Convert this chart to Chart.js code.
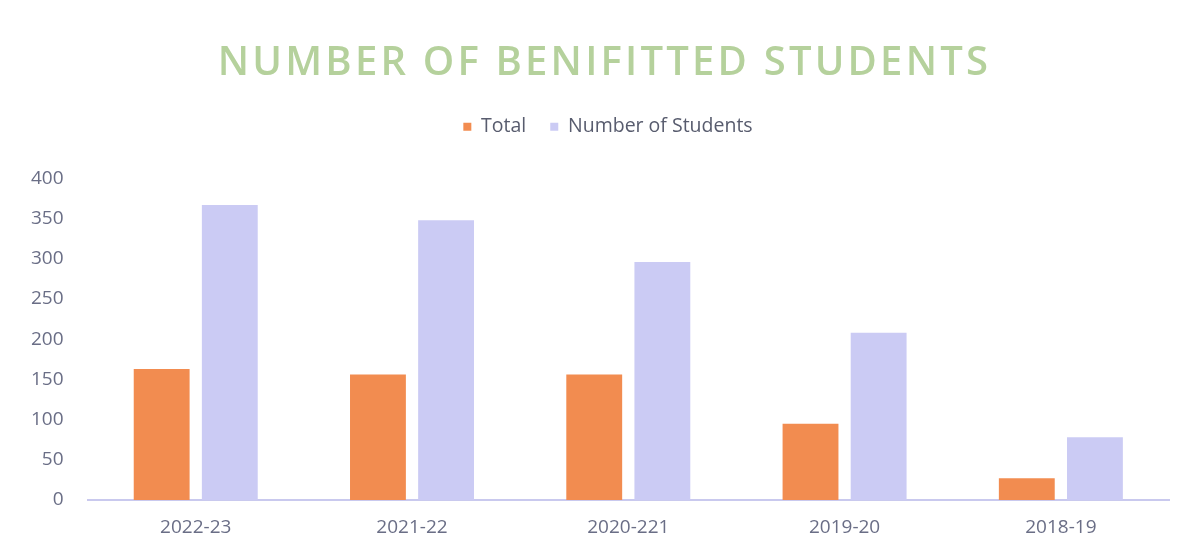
<!DOCTYPE html>
<html>
<head>
<meta charset="utf-8">
<script src="https://cdn.jsdelivr.net/npm/chart.js@4"></script>
<style>
    html, body { margin: 0; padding: 0; background: #ffffff; }
    #wrap { position: relative; width: 1181px; height: 552px; }
    #title {
        position: absolute; left: 14px; top: 33px; width: 1181px; text-align: center;
        font-family: "Open Sans", sans-serif; font-size: 40px; font-weight: 600; letter-spacing: 3.2px;
        color: #b5d19c; pointer-events: none; line-height: 1.36;
    }
</style>
</head>
<body>
<div id="wrap">
    <div id="title">NUMBER OF BENIFITTED STUDENTS</div>
    <canvas id="chart" width="1181" height="552"></canvas>
</div>
<script>
const years = ['2022-23', '2021-22', '2020-221', '2019-20', '2018-19'];
const totalValues = [163, 156, 156, 95, 27];
const studentValues = [367, 348, 296, 208, 78];
const yTicks = [0, 50, 100, 150, 200, 250, 300, 350, 400];

const tickColor = '#6a6e86';

// more room under the legend, and nudge it a little to the right
const legendTweak = {
    id: 'legendTweak',
    beforeInit(chart) {
        const fit = chart.legend.fit;
        chart.legend.fit = function () {
            fit.bind(chart.legend)();
            this.height += 32;
        };
    },
    afterLayout(chart) {
        chart.legend.left += 20;
        chart.legend.right += 20;
    }
};

const ctx = document.getElementById('chart').getContext('2d');
new Chart(ctx, {
    type: 'bar',
    data: {
        labels: years,
        datasets: [{
            label: 'Total',
            data: totalValues,
            backgroundColor: '#f28c50',
            categoryPercentage: 0.63,
            barPercentage: 0.82
        }, {
            label: 'Number of Students',
            data: studentValues,
            backgroundColor: '#cbcbf4',
            categoryPercentage: 0.63,
            barPercentage: 0.82
        }]
    },
    options: {
        responsive: false,
        animation: false,
        layout: {
            padding: { top: 93, left: 7, right: 12, bottom: 1 }
        },
        plugins: {
            legend: {
                position: 'top',
                labels: {
                    boxWidth: 8,
                    boxHeight: 8,
                    padding: 24,
                    color: '#585c6e',
                    font: { family: 'Open Sans', size: 19.5 }
                }
            },
            tooltip: { enabled: false }
        },
        scales: {
            x: {
                grid: { display: false, drawTicks: false },
                border: { color: '#c9c9ee', width: 2 },
                ticks: { color: tickColor, font: { family: 'Open Sans', size: 19 }, padding: 16 },
                afterFit: axis => { axis.height = 51; }
            },
            y: {
                min: 0,
                max: 400,
                afterBuildTicks: axis => { axis.ticks = yTicks.map(v => ({ value: v })); },
                grid: { display: false, drawTicks: false },
                border: { display: false },
                ticks: { color: tickColor, font: { family: 'Open Sans', size: 19 }, padding: 24 }
            }
        }
    },
    plugins: [legendTweak]
});
</script>
</body>
</html>
